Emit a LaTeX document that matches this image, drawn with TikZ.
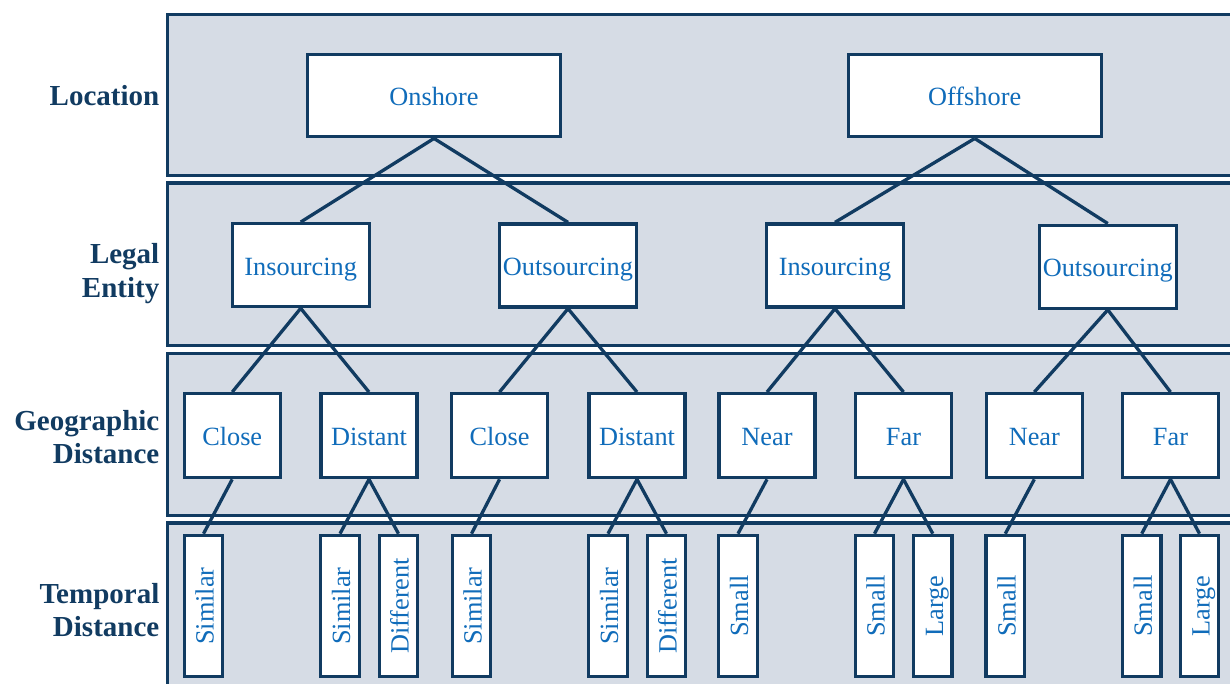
\documentclass[tikz,border=0pt]{standalone}
\usepackage{fontspec}
\setmainfont{Liberation Serif}
\definecolor{navy}{RGB}{17,59,97}
\definecolor{tblue}{RGB}{16,108,186}
\definecolor{bandfill}{RGB}{214,220,229}
\pgfdeclarelayer{bg}
\pgfsetlayers{bg,main}
\tikzset{
  band/.style={draw=navy, fill=bandfill, line width=3.3pt},
  box/.style={draw=navy, fill=white, line width=3.3pt, text=tblue, inner sep=0pt, font=\fontsize{26.3}{30}\selectfont},
  hbox/.style={box, text height=21pt, text depth=0.63pt},
  topbox/.style={hbox, minimum width=253pt, minimum height=82pt},
  midbox/.style={hbox, minimum width=137pt, minimum height=83pt},
  geobox/.style={hbox, minimum width=96pt, minimum height=84pt},
  leafbox/.style={box, minimum width=38.5pt, minimum height=141.3pt},
  conn/.style={draw=navy, line width=3.3pt},
  rowlabel/.style={anchor=east, align=right, text=navy, inner sep=0pt, font=\fontsize{29}{33.4}\selectfont\bfseries},
}
\newcommand{\leaftext}[1]{\rotatebox{90}{\smash{#1}\rule[-0.63pt]{0pt}{21.63pt}}}
\begin{document}
\begin{tikzpicture}[x=1pt,y=-1pt]
\useasboundingbox (0,0) rectangle (1230,684);
\clip (0,0) rectangle (1230,684);
% row labels
\node[rowlabel] (labloc) at (159.5,96) {Location};
\node[rowlabel] (lableg) at (159.5,273.4) {Legal\\Entity};
\node[rowlabel] (labgeo) at (159.5,437.3) {Geographic\\Distance};
\node[rowlabel] (labtem) at (159.5,610) {Temporal\\Distance};
% level 1
\node[topbox] (on) at (434,95.8) {Onshore};
\node[topbox] (off) at (974.7,95.8) {Offshore};
% level 2
\node[midbox] (in1) at (300.7,265.2) {Insourcing};
\node[midbox] (out1) at (568,265.5) {Outsourcing};
\node[midbox] (in2) at (835,265.5) {Insourcing};
\node[midbox] (out2) at (1107.8,266.7) {Outsourcing};
% level 3
\node[geobox] (g1) at (232.2,435.7) {Close};
\node[geobox] (g2) at (369,435.7) {Distant};
\node[geobox] (g3) at (499.5,435.7) {Close};
\node[geobox] (g4) at (637,435.7) {Distant};
\node[geobox] (g5) at (767,435.7) {Near};
\node[geobox] (g6) at (903.5,435.7) {Far};
\node[geobox] (g7) at (1034.3,435.7) {Near};
\node[geobox] (g8) at (1170.5,435.7) {Far};
% level 4
\node[leafbox] (l1) at (203.5,606) {\leaftext{Similar}};
\node[leafbox] (l2) at (340,606) {\leaftext{Similar}};
\node[leafbox] (l3) at (398.5,606) {\leaftext{Different}};
\node[leafbox] (l4) at (471.5,606) {\leaftext{Similar}};
\node[leafbox] (l5) at (608,606) {\leaftext{Similar}};
\node[leafbox] (l6) at (666.5,606) {\leaftext{Different}};
\node[leafbox] (l7) at (738,606) {\leaftext{Small}};
\node[leafbox] (l8) at (874.5,606) {\leaftext{Small}};
\node[leafbox] (l9) at (932.8,606) {\leaftext{Large}};
\node[leafbox] (l10) at (1005.3,606) {\leaftext{Small}};
\node[leafbox] (l11) at (1141.7,606) {\leaftext{Small}};
\node[leafbox] (l12) at (1199.5,606) {\leaftext{Large}};
\begin{pgfonlayer}{bg}
  \path[band] (167.7,14.7) rectangle (1250,175.7);
  \path[band] (167.7,183) rectangle (1250,345.8);
  \path[band] (167.7,353.3) rectangle (1250,515.3);
  \path[band] (167.7,523) rectangle (1250,710);
  \draw[conn] (on.south) -- (in1.north);
  \draw[conn] (on.south) -- (out1.north);
  \draw[conn] (off.south) -- (in2.north);
  \draw[conn] (off.south) -- (out2.north);
  \draw[conn] (in1.south) -- (g1.north);
  \draw[conn] (in1.south) -- (g2.north);
  \draw[conn] (out1.south) -- (g3.north);
  \draw[conn] (out1.south) -- (g4.north);
  \draw[conn] (in2.south) -- (g5.north);
  \draw[conn] (in2.south) -- (g6.north);
  \draw[conn] (out2.south) -- (g7.north);
  \draw[conn] (out2.south) -- (g8.north);
  \draw[conn] (g1.south) -- (l1.north);
  \draw[conn] (g2.south) -- (l2.north);
  \draw[conn] (g2.south) -- (l3.north);
  \draw[conn] (g3.south) -- (l4.north);
  \draw[conn] (g4.south) -- (l5.north);
  \draw[conn] (g4.south) -- (l6.north);
  \draw[conn] (g5.south) -- (l7.north);
  \draw[conn] (g6.south) -- (l8.north);
  \draw[conn] (g6.south) -- (l9.north);
  \draw[conn] (g7.south) -- (l10.north);
  \draw[conn] (g8.south) -- (l11.north);
  \draw[conn] (g8.south) -- (l12.north);
\end{pgfonlayer}
\end{tikzpicture}
\end{document}
